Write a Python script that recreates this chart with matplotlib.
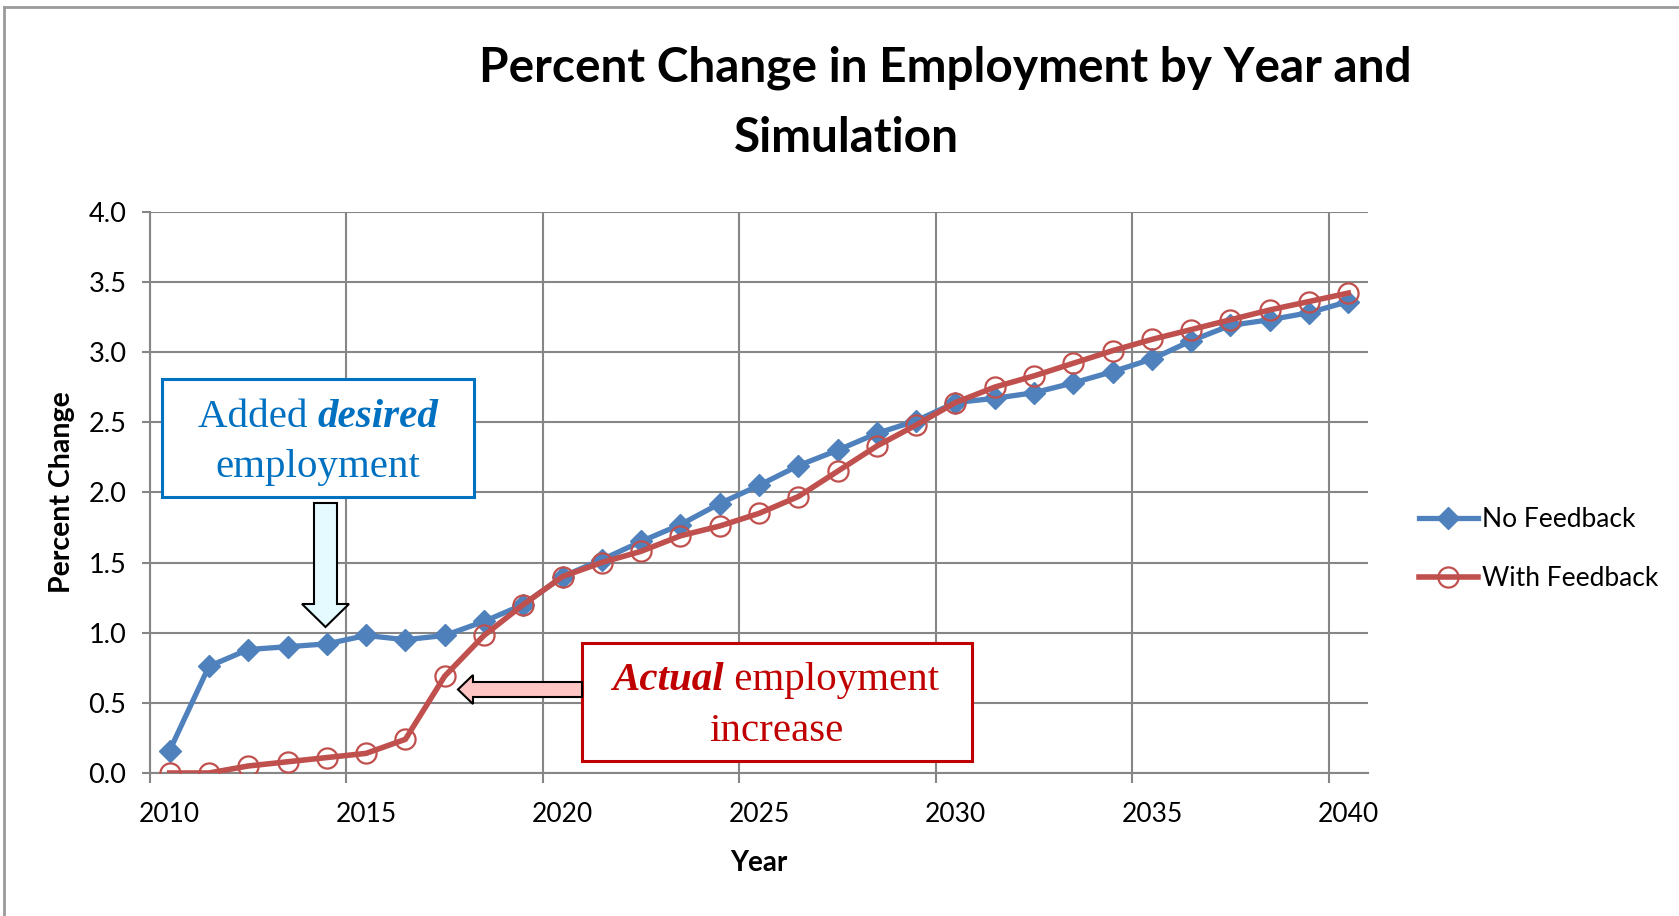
import numpy as np
import matplotlib
matplotlib.use('Agg')
import matplotlib.pyplot as plt
from matplotlib.patches import Rectangle, Polygon

plt.rcParams['font.family'] = ['Lato', 'DejaVu Sans']

# data
years = list(range(2010, 2041))
no_feedback = [0.16, 0.76, 0.88, 0.90, 0.92, 0.98, 0.95, 0.98, 1.08, 1.20,
               1.40, 1.52, 1.65, 1.77, 1.92, 2.05, 2.19, 2.30, 2.42, 2.51,
               2.64, 2.67, 2.71, 2.78, 2.86, 2.95, 3.08, 3.19, 3.23, 3.28, 3.36]
with_feedback = [0.00, 0.00, 0.05, 0.08, 0.11, 0.14, 0.24, 0.69, 0.98, 1.20,
                 1.40, 1.50, 1.58, 1.69, 1.76, 1.85, 1.97, 2.15, 2.33, 2.48,
                 2.64, 2.75, 2.83, 2.92, 3.01, 3.09, 3.16, 3.23, 3.30, 3.36, 3.42]
year_labels = ['2010', '2015', '2020', '2025', '2030', '2035', '2040']
y_ticks = [0.0, 0.5, 1.0, 1.5, 2.0, 2.5, 3.0, 3.5, 4.0]

W, H = 1679, 916
blue = '#4F81BD'
red = '#C0504D'
grid = '#868686'


def fx(px):
    return px / W


def fy(py):
    return 1 - py / H


fig = plt.figure(figsize=(W / 100, H / 100), dpi=100)
ax = fig.add_axes([fx(150), fy(773), fx(1368) - fx(150), fy(211.7) - fy(773)])

x = np.arange(len(years))
ax.plot(x, no_feedback, color=blue, lw=3.8, marker='D', ms=11, mfc=blue, mec=blue,
        label='No Feedback', zorder=3)
ax.plot(x, with_feedback, color=red, lw=4.0, marker='o', ms=14.5, mfc='none', mec=red,
        mew=1.6, label='With Feedback', zorder=4)

ax.set_xlim(-0.5, len(years) - 0.5)
ax.set_ylim(0, 4)
ax.set_yticks(y_ticks)
ax.set_yticklabels(['%.1f' % v for v in y_ticks], fontsize=19.5)
ax.set_xticks(np.arange(-0.5, len(years) - 1, 5))
ax.set_xticklabels([])
ax.set_xticks(np.arange(0, len(years), 5), minor=True)
ax.set_xticklabels(year_labels, minor=True, fontsize=19)
ax.tick_params(axis='x', which='major', length=7, width=1.5, color=grid, direction='out')
ax.tick_params(axis='x', which='minor', length=0, pad=21)
ax.tick_params(axis='y', length=6, width=1.5, color=grid, pad=11)
ax.grid(True, which='major', color=grid, lw=1.5)
ax.set_axisbelow(True)
for s in ['top', 'right']:
    ax.spines[s].set_visible(False)
for s in ['left', 'bottom']:
    ax.spines[s].set_color(grid)
    ax.spines[s].set_linewidth(1.5)

# axis titles
fig.text(fx(759), fy(863), 'Year', fontsize=20, fontweight='bold', ha='center', va='center')
fig.text(fx(62), fy(492), 'Percent Change', fontsize=20.5, fontweight='bold', ha='center',
         va='center', rotation=90)

# title
fig.text(fx(945), fy(68), 'Percent Change in Employment by Year and', ha='center', va='center',
         fontsize=34.4, fontweight='bold')
fig.text(fx(846), fy(138), 'Simulation', ha='center', va='center',
         fontsize=34.4, fontweight='bold')

# legend
ax.legend(loc='center left', bbox_to_anchor=(fx(1395), fy(549)), bbox_transform=fig.transFigure,
          frameon=False, fontsize=19, handlelength=2.25, handletextpad=0.15, labelspacing=1.28)

# outer frame lines
fig.add_artist(plt.Line2D([fx(4), fx(4)], [fy(7), 0], transform=fig.transFigure, color='#9a9a9a', lw=2))
fig.add_artist(plt.Line2D([fx(4), 1], [fy(7), fy(7)], transform=fig.transFigure, color='#9a9a9a', lw=2))

# annotation boxes
fig.add_artist(Rectangle((fx(162), fy(497)), fx(474) - fx(162), fy(379) - fy(497),
                         transform=fig.transFigure, fc='white', ec='#0070C0', lw=2.2, zorder=5))
fig.add_artist(Rectangle((fx(582), fy(761)), fx(972) - fx(582), fy(643) - fy(761),
                         transform=fig.transFigure, fc='white', ec='#C00000', lw=2.2, zorder=5))

# block arrows
down = [(314, 503), (337, 503), (337, 604), (349, 604), (325.5, 627), (302, 604), (314, 604)]
fig.add_artist(Polygon([(fx(a), fy(b)) for a, b in down], closed=True, transform=fig.transFigure,
                       fc='#E5FAFF', ec='black', lw=1.5, zorder=5))
left = [(582, 682), (582, 697), (473, 697), (473, 704), (458, 689.5), (473, 675), (473, 682)]
fig.add_artist(Polygon([(fx(a), fy(b)) for a, b in left], closed=True, transform=fig.transFigure,
                       fc='#FFC5C5', ec='black', lw=1.5, zorder=5))

serif = 'Liberation Serif'
renderer = fig.canvas.get_renderer()


def two_part(cx, base_y, first, second, first_kw, second_kw, color):
    t1 = fig.text(0, fy(base_y), first, fontsize=29.5, family=serif, color=color,
                  va='baseline', zorder=6, **first_kw)
    t2 = fig.text(0, fy(base_y), second, fontsize=29.5, family=serif, color=color,
                  va='baseline', zorder=6, **second_kw)
    w1 = t1.get_window_extent(renderer).width
    w2 = t2.get_window_extent(renderer).width
    start = cx - (w1 + w2) / 2
    t1.set_x(fx(start))
    t2.set_x(fx(start + w1))


two_part(318, 427, 'Added ', 'desired', {}, {'fontweight': 'bold', 'style': 'italic'}, '#0070C0')
fig.text(fx(318), fy(477), 'employment', fontsize=29.5, family=serif, color='#0070C0',
         ha='center', va='baseline', zorder=6)
two_part(776, 690, 'Actual', ' employment', {'fontweight': 'bold', 'style': 'italic'}, {}, '#C00000')
fig.text(fx(776), fy(741), 'increase', fontsize=29.5, family=serif, color='#C00000',
         ha='center', va='baseline', zorder=6)

fig.savefig('out.png', dpi=100)
